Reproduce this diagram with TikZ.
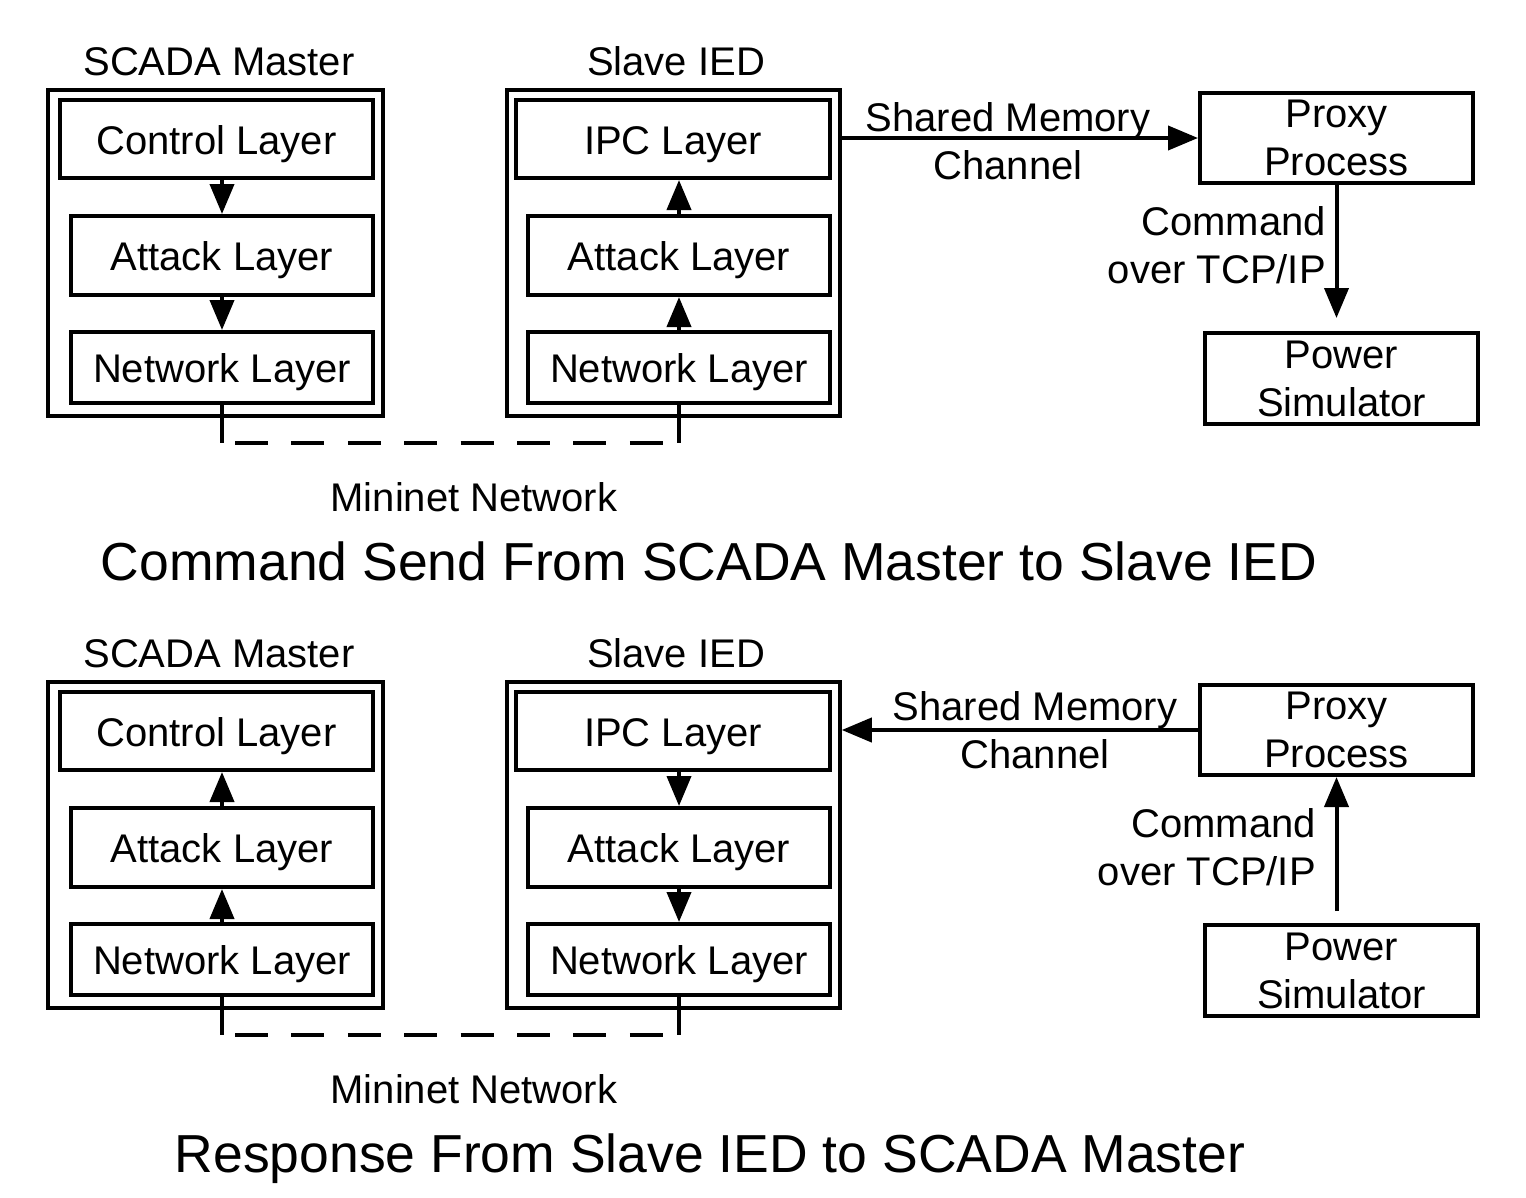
\documentclass[tikz,border=0pt]{standalone}
\usepackage{fontspec}
\setmainfont{Liberation Sans}
\usetikzlibrary{arrows.meta}
\begin{document}
\begin{tikzpicture}[x=1pt,y=-1pt,
  txt/.style={font=\fontsize{40}{48}\selectfont},
  layerbox/.style={txt, draw, line width=4pt, inner sep=0pt, text height=30pt, text depth=0pt},
  outerbox/.style={draw, line width=3.5pt, inner sep=0pt},
  twobox/.style={txt, draw, line width=4pt, inner sep=0pt, align=center},
  lbl/.style={txt, anchor=base, inner sep=0pt},
  rlbl/.style={txt, anchor=base east, inner sep=0pt},
  ttl/.style={font=\fontsize{53.5}{60}\selectfont, anchor=base, inner sep=0pt},
  flow/.style={line width=4pt, -{Triangle[length=30pt,width=24pt]}},
  wire/.style={line width=4pt},
  netdash/.style={line width=4pt, dash pattern=on 33pt off 23.4pt}
]
\useasboundingbox (0,0) rectangle (1526,1197);

% ================= TOP PANEL =================
\node[lbl] (tsmlbl) at (219,75) {SCADA Master};
\node[lbl] (tsllbl) at (676,75) {Slave IED};

\node[outerbox, minimum width=335pt, minimum height=326pt] (tsm) at (215.5,253) {};
\node[layerbox, minimum width=313pt, minimum height=78pt] (tctl) at (216.5,139) {Control Layer};
\node[layerbox, minimum width=302pt, minimum height=79pt] (tatk) at (222,255.5) {Attack Layer};
\node[layerbox, minimum width=302pt, minimum height=71pt] (tnet) at (222,367.5) {Network Layer};

\node[outerbox, minimum width=333pt, minimum height=326pt] (tsl) at (673.5,253) {};
\node[layerbox, minimum width=314pt, minimum height=78pt] (tipc) at (673,139) {IPC Layer};
\node[layerbox, minimum width=302pt, minimum height=79pt] (tsatk) at (679,255.5) {Attack Layer};
\node[layerbox, minimum width=302pt, minimum height=71pt] (tsnet) at (679,367.5) {Network Layer};

\node[twobox, minimum width=273pt, minimum height=90pt] (tproxy) at (1336.5,138) {Proxy\\Process};
\node[twobox, minimum width=273pt, minimum height=91pt] (tpower) at (1341.5,378.5) {Power\\Simulator};

\draw[flow] (tatk.north |- tctl.south) -- (tatk.north);
\draw[flow] (tnet.north |- tatk.south) -- (tnet.north);
\draw[flow] (tsatk.north) -- (tsatk.north |- tipc.south);
\draw[flow] (tsnet.north) -- (tsnet.north |- tsatk.south);

\coordinate (tl) at (222,443);
\coordinate (tr) at (679,443);
\draw[wire] (tnet.south) -- (tl);
\draw[wire] (tsnet.south) -- (tr);
\draw[netdash] ([xshift=13pt]tl) -- ([xshift=-16pt]tr);
\node[lbl] (tmn) at (474,511) {Mininet Network};

\draw[flow] (tsl.east |- tproxy.west) -- (tproxy.west);
\node[lbl] (tshm) at (1008,131) {Shared Memory};
\node[lbl] (tchn) at (1008,179) {Channel};

\draw[flow, shorten >=13pt] (tproxy.south) -- (tproxy.south |- tpower.north);
\node[rlbl] (tcmd) at (1326,235) {Command};
\node[rlbl] (ttcp) at (1326,283) {over TCP/IP};

\node[ttl] (ttitle) at (709,580) {Command Send From SCADA Master to Slave IED};

% ================= BOTTOM PANEL =================
\node[lbl] (bsmlbl) at (219,667) {SCADA Master};
\node[lbl] (bsllbl) at (676,667) {Slave IED};

\node[outerbox, minimum width=335pt, minimum height=326pt] (bsm) at (215.5,845) {};
\node[layerbox, minimum width=313pt, minimum height=78pt] (bctl) at (216.5,731) {Control Layer};
\node[layerbox, minimum width=302pt, minimum height=79pt] (batk) at (222,847.5) {Attack Layer};
\node[layerbox, minimum width=302pt, minimum height=71pt] (bnet) at (222,959.5) {Network Layer};

\node[outerbox, minimum width=333pt, minimum height=326pt] (bsl) at (673.5,845) {};
\node[layerbox, minimum width=314pt, minimum height=78pt] (bipc) at (673,731) {IPC Layer};
\node[layerbox, minimum width=302pt, minimum height=79pt] (bsatk) at (679,847.5) {Attack Layer};
\node[layerbox, minimum width=302pt, minimum height=71pt] (bsnet) at (679,959.5) {Network Layer};

\node[twobox, minimum width=273pt, minimum height=90pt] (bproxy) at (1336.5,730) {Proxy\\Process};
\node[twobox, minimum width=273pt, minimum height=91pt] (bpower) at (1341.5,970.5) {Power\\Simulator};

\draw[flow] (batk.north) -- (batk.north |- bctl.south);
\draw[flow] (bnet.north) -- (bnet.north |- batk.south);
\draw[flow] (bsatk.north |- bipc.south) -- (bsatk.north);
\draw[flow] (bsnet.north |- bsatk.south) -- (bsnet.north);

\coordinate (bl) at (222,1035);
\coordinate (br) at (679,1035);
\draw[wire] (bnet.south) -- (bl);
\draw[wire] (bsnet.south) -- (br);
\draw[netdash] ([xshift=13pt]bl) -- ([xshift=-16pt]br);
\node[lbl] (bmn) at (474,1103) {Mininet Network};

\draw[flow] (bproxy.west) -- (bsl.east |- bproxy.west);
\node[lbl] (bshm) at (1035,720) {Shared Memory};
\node[lbl] (bchn) at (1035,768) {Channel};

\draw[flow, shorten <=12pt] (bpower.north -| bproxy.south) -- (bproxy.south);
\node[rlbl] (bcmd) at (1316,837) {Command};
\node[rlbl] (btcp) at (1316,885) {over TCP/IP};

\node[ttl] (btitle) at (710,1172) {Response From Slave IED to SCADA Master};
\end{tikzpicture}
\end{document}
